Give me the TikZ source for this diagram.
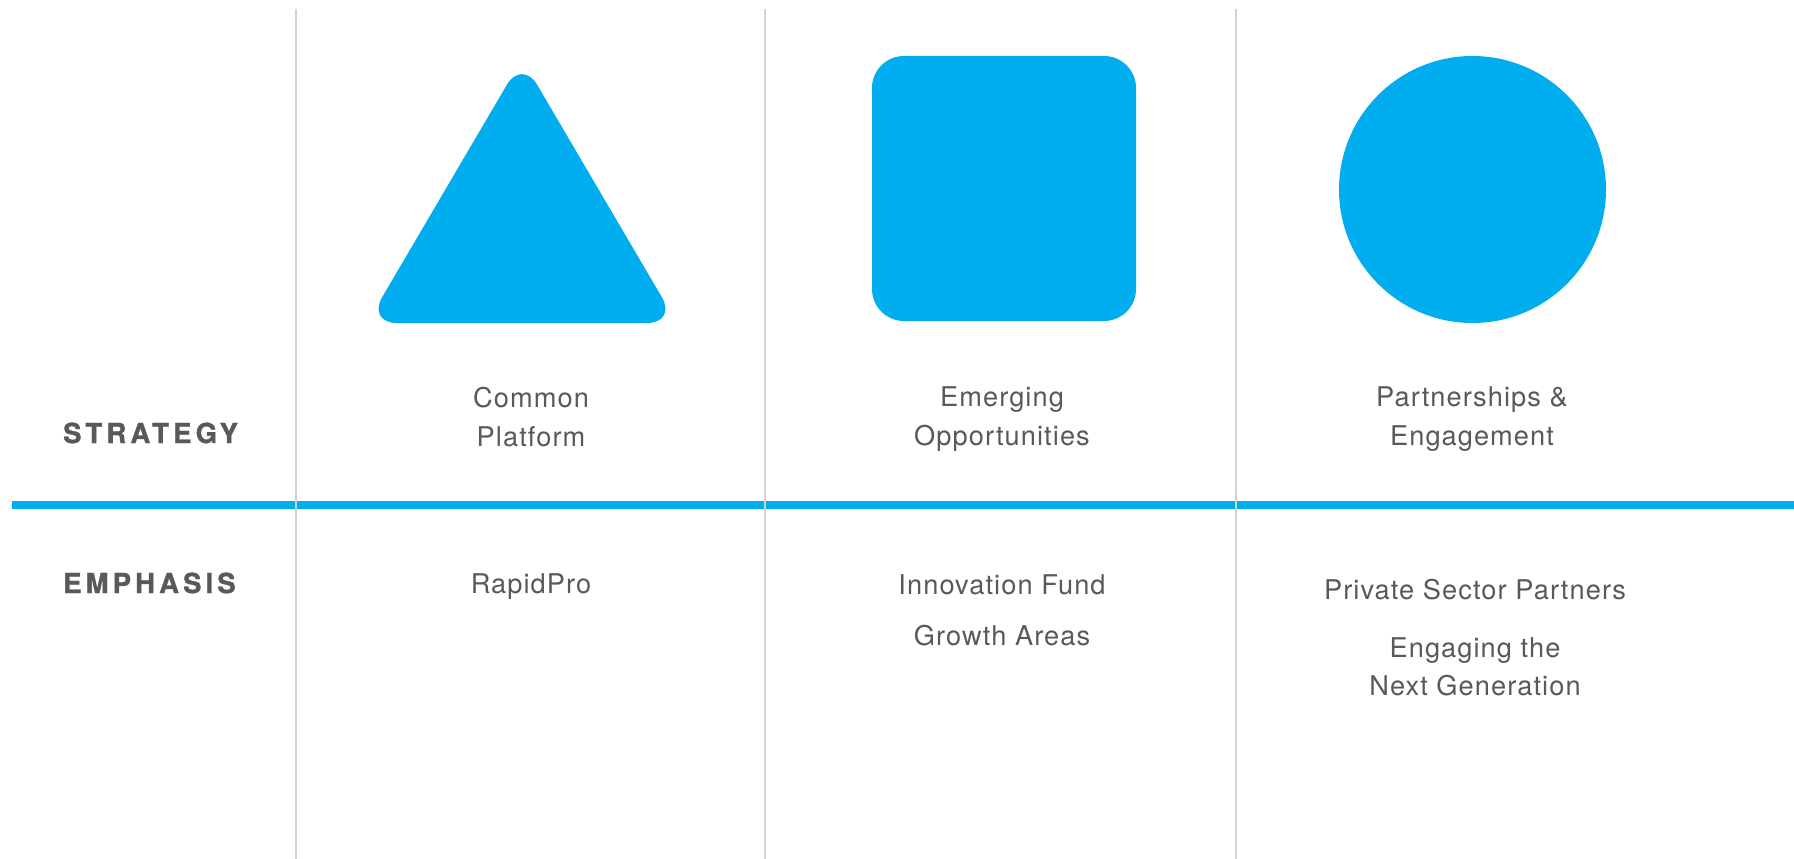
\documentclass[tikz,border=0pt]{standalone}
\usepackage{fontspec}
\setmainfont{TeX Gyre Heros}[LetterSpace=4]
\newfontfamily\headfont{TeX Gyre Heros}[LetterSpace=15, BoldFeatures={FakeBold=1.2}]
\definecolor{unblue}{HTML}{00AEEF}
\definecolor{txtgray}{HTML}{58595B}
\definecolor{rulegray}{HTML}{D1D3D4}
\tikzset{
  shapefill/.style={fill=unblue, draw=none},
  colrule/.style={draw=rulegray, line width=2.2pt},
  mainrule/.style={draw=unblue, line width=7.5pt},
  cell/.style={anchor=base, inner sep=0pt, text=txtgray, font=\fontsize{27.2}{32}\selectfont},
  rowhead/.style={anchor=base west, inner sep=0pt, text=txtgray, font=\headfont\bfseries\fontsize{27.5}{32}\selectfont}
}
\begin{document}
\begin{tikzpicture}[x=1pt, y=-1pt]
\useasboundingbox[fill=white] (0,0) rectangle (1794,859);

% main horizontal rule
\coordinate (hl) at (12,505);
\coordinate (hr) at (1794,505);
\draw[mainrule] (hl) -- (hr);

% column rules
\coordinate (v1t) at (296,9);   \coordinate (v1b) at (296,859);
\coordinate (v2t) at (765,9);   \coordinate (v2b) at (765,859);
\coordinate (v3t) at (1236,9);  \coordinate (v3b) at (1236,859);
\draw[colrule] (v1t) -- (v1b);
\draw[colrule] (v2t) -- (v2b);
\draw[colrule] (v3t) -- (v3b);

% shapes
\fill[shapefill, rounded corners=30pt] (522,59) -- (677,323) -- (367,323) -- cycle;
\fill[shapefill, rounded corners=32pt] (872,56) rectangle (1136,321);
\fill[shapefill] (1472.5,189.5) circle (133.5);

% row headers
\node[rowhead] (strategy) at (63,443) {STRATEGY};
\node[rowhead] (emphasis) at (63,593) {EMPHASIS};

% strategy row
\node[cell] (s1a) at (531,407) {Common};
\node[cell] (s1b) at (531,446) {Platform};
\node[cell] (s2a) at (1002,406) {Emerging};
\node[cell] (s2b) at (1002,445) {Opportunities};
\node[cell] (s3a) at (1472,406) {Partnerships \&};
\node[cell] (s3b) at (1472,445) {Engagement};

% emphasis row
\node[cell] (e1a) at (531,593) {RapidPro};
\node[cell] (e2a) at (1002,594) {Innovation Fund};
\node[cell] (e2b) at (1002,645) {Growth Areas};
\node[cell] (e3a) at (1475,599) {Private Sector Partners};
\node[cell] (e3b) at (1475,657) {Engaging the};
\node[cell] (e3c) at (1475,695) {Next Generation};
\end{tikzpicture}
\end{document}
